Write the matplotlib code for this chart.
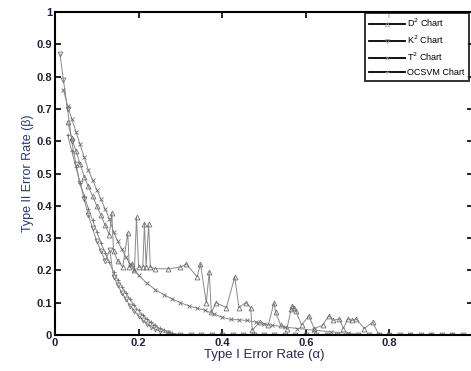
import matplotlib
matplotlib.use("Agg")
import matplotlib.pyplot as plt
from matplotlib.lines import Line2D

plt.rcParams['font.family'] = ['Liberation Sans', 'DejaVu Sans']

tail_x = [0.30, 0.325, 0.35, 0.375, 0.40, 0.425, 0.45, 0.475, 0.50, 0.525, 0.55, 0.575,
          0.60, 0.625, 0.65, 0.675, 0.70, 0.725, 0.75, 0.775, 0.80, 0.825, 0.85, 0.875,
          0.90, 0.925, 0.95, 0.975, 1.0]

# D^2 chart (noisy, triangle-up markers)
d2_x = [0.03, 0.04, 0.05, 0.06, 0.07, 0.08, 0.09, 0.10, 0.11, 0.12, 0.13, 0.136, 0.14,
        0.15, 0.162, 0.174, 0.178, 0.185, 0.19, 0.195, 0.20, 0.21, 0.214, 0.218, 0.224,
        0.228, 0.24, 0.27, 0.30, 0.314, 0.34, 0.348, 0.362, 0.369, 0.374, 0.385, 0.41,
        0.43, 0.44, 0.456, 0.468, 0.472, 0.49, 0.51, 0.524, 0.528, 0.54, 0.555, 0.565,
        0.568, 0.572, 0.576, 0.59, 0.607, 0.62, 0.64, 0.655, 0.665, 0.68, 0.69, 0.70,
        0.71, 0.72, 0.74, 0.76, 0.775, 0.80, 0.85, 0.90, 0.95, 1.0]
d2_y = [0.66, 0.61, 0.57, 0.53, 0.49, 0.46, 0.43, 0.40, 0.37, 0.34, 0.31, 0.377, 0.26,
        0.23, 0.21, 0.315, 0.21, 0.22, 0.20, 0.365, 0.21, 0.21, 0.345, 0.21, 0.345,
        0.21, 0.205, 0.205, 0.21, 0.22, 0.18, 0.22, 0.10, 0.195, 0.07, 0.10, 0.085,
        0.18, 0.085, 0.10, 0.085, 0.015, 0.04, 0.03, 0.10, 0.07, 0.03, 0.02, 0.08,
        0.09, 0.085, 0.075, 0.03, 0.06, 0.02, 0.03, 0.06, 0.045, 0.05, 0.02, 0.05,
        0.045, 0.05, 0.02, 0.04, 0.0, 0.0, 0.0, 0.0, 0.0, 0.0]

# K^2 chart (starts high, triangle-down markers)
k2_x = [0.012, 0.02, 0.03, 0.04, 0.05, 0.06, 0.07, 0.08, 0.09, 0.10, 0.11, 0.12, 0.131,
        0.14, 0.15, 0.16, 0.17, 0.18, 0.19, 0.20, 0.21, 0.22, 0.23, 0.24, 0.25, 0.27] + tail_x
k2_y = [0.87, 0.79, 0.70, 0.60, 0.53, 0.47, 0.42, 0.37, 0.33, 0.29, 0.26, 0.23, 0.263,
        0.18, 0.155, 0.13, 0.11, 0.09, 0.075, 0.06, 0.046, 0.035, 0.026, 0.018, 0.012,
        0.005] + [0.0] * len(tail_x)

# T^2 chart (middle curve)
t2_x = [0.02, 0.03, 0.04, 0.05, 0.06, 0.07, 0.08, 0.09, 0.10, 0.11, 0.12, 0.13, 0.14,
        0.15, 0.16, 0.17, 0.18, 0.19, 0.20, 0.22, 0.24, 0.26, 0.28, 0.30, 0.32, 0.34,
        0.36, 0.38, 0.40, 0.42, 0.44, 0.46, 0.48, 0.50, 0.52, 0.55, 0.58, 0.62, 0.66,
        0.70, 0.75, 0.80, 0.85, 0.90, 0.95, 1.0]
t2_y = [0.76, 0.71, 0.67, 0.63, 0.59, 0.55, 0.51, 0.48, 0.45, 0.42, 0.39, 0.36, 0.32,
        0.29, 0.265, 0.24, 0.22, 0.20, 0.185, 0.16, 0.14, 0.125, 0.112, 0.10, 0.09,
        0.083, 0.076, 0.065, 0.055, 0.048, 0.047, 0.045, 0.04, 0.035, 0.03, 0.025,
        0.02, 0.015, 0.01, 0.005, 0.0, 0.0, 0.0, 0.0, 0.0, 0.0]

# OCSVM chart (lowest curve)
oc_x = [0.03, 0.04, 0.05, 0.06, 0.07, 0.08, 0.09, 0.10, 0.11, 0.12, 0.13, 0.14, 0.15,
        0.16, 0.17, 0.18, 0.19, 0.20, 0.21, 0.22, 0.23, 0.24, 0.25, 0.26, 0.27, 0.28] + tail_x
oc_y = [0.62, 0.57, 0.52, 0.47, 0.43, 0.39, 0.355, 0.32, 0.285, 0.255, 0.225, 0.195,
        0.17, 0.15, 0.13, 0.11, 0.092, 0.076, 0.062, 0.05, 0.04, 0.03, 0.021, 0.015,
        0.01, 0.006] + [0.0] * len(tail_x)

series = [("D$^2$ Chart", d2_x, d2_y, '^'),
          ("K$^2$ Chart", k2_x, k2_y, 'v'),
          ("T$^2$ Chart", t2_x, t2_y, 'x'),
          ("OCSVM Chart", oc_x, oc_y, '+')]

xtick_vals = [0, 0.2, 0.4, 0.6, 0.8]
xtick_labels = ['0', '0.2', '0.4', '0.6', '0.8']
ytick_vals = [0, 0.1, 0.2, 0.3, 0.4, 0.5, 0.6, 0.7, 0.8, 0.9, 1.0]
ytick_labels = ['0', '0.1', '0.2', '0.3', '0.4', '0.5', '0.6', '0.7', '0.8', '0.9', '1']

fig = plt.figure(figsize=(4.71, 3.71), dpi=100)
ax = fig.add_axes([55 / 471, 1 - 335 / 371, 418 / 471, 323 / 371])

gray = '#8a8a8a'
for name, xs, ys, mk in series:
    ax.plot(xs, ys, color=gray, lw=0.7, marker=mk, ms=3.5, mfc='none',
            mec='#6f6f6f', mew=0.6)

ax.set_xlim(0, 1)
ax.set_ylim(0, 1)
ax.set_xticks(xtick_vals)
ax.set_xticklabels(xtick_labels)
ax.set_yticks(ytick_vals)
ax.set_yticklabels(ytick_labels)
txtc = '#20203a'
ax.tick_params(direction='in', length=4, width=1.2, top=True, right=True,
               labelsize=8, labelcolor=txtc, pad=2)
for lab in ax.get_xticklabels() + ax.get_yticklabels():
    lab.set_fontweight('bold')
for s in ax.spines.values():
    s.set_linewidth(1.5)

ax.set_xlabel('Type I Error Rate (\u03b1)', fontsize=9.5, color='#2a2a55', labelpad=1)
ax.set_ylabel('Type II Error Rate (\u03b2)', fontsize=9, color='#2a3a66', labelpad=2)

handles = [Line2D([0], [0], color='black', lw=1.3, marker=mk, ms=3, mfc='none',
                  mec='#999999', mew=0.5) for _, _, _, mk in series]
leg = ax.legend(handles, [s[0] for s in series], loc='upper right',
                bbox_to_anchor=(0.99, 0.997), fontsize=6.5, frameon=True, fancybox=False,
                edgecolor='black', handlelength=4.0, handletextpad=0.3,
                labelspacing=0.5, borderpad=0.45, borderaxespad=0)
leg.get_frame().set_linewidth(1.4)

fig.savefig('out.png', dpi=100)
